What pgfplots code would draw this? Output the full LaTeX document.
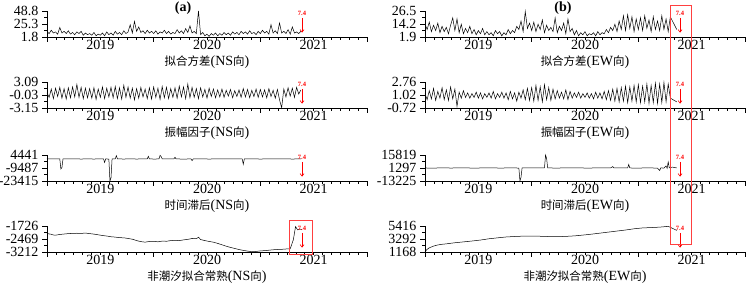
\documentclass[border=0pt]{standalone}
\usepackage{pgfplots}
\pgfplotsset{compat=1.18}
\usepackage{pgfplotstable}
\usetikzlibrary{arrows.meta}
\usepackage{fontspec}
\setmainfont{Liberation Serif}
\newfontfamily\cjk{Noto Sans CJK SC}[Scale=0.82]

\pgfplotstableread{
x L1 L2 R1 R2
2019.00 12 0.5 14 1.2
2019.02 8 -0.6 9 0.4
2019.04 14 1.4 16 1.6
2019.06 9 -0.9 7 0.5
2019.08 11 1.6 13 1.9
2019.10 7 -0.4 8 0.3
2019.12 19 1.8 15 1.5
2019.14 9 -0.8 6 0.6
2019.16 12 1.5 12 2.0
2019.18 8 -1.0 7 0.4
2019.20 13 1.7 11 1.7
2019.22 7 -0.7 5 0.3
2019.24 10 1.9 13 2.1
2019.26 6 -0.5 20 0.5
2019.28 11 2.5 8 1.8
2019.30 8 -0.6 19 -0.5
2019.32 12 1.8 6 1.4
2019.34 5 -0.9 14 0.6
2019.36 9 1.6 5 1.6
2019.38 6 -0.7 10 0.7
2019.40 8 1.5 6 1.3
2019.42 5 -0.8 12 0.6
2019.44 10 1.7 5 1.2
2019.46 4 -1.1 9 0.7
2019.48 7 1.4 4 1.4
2019.50 5 -0.6 8 0.6
2019.52 9 1.9 5 1.3
2019.54 4 -0.9 10 0.5
2019.56 11 1.6 4 1.2
2019.58 6 -0.5 7 0.7
2019.60 9 1.8 4 1.3
2019.62 5 -0.7 6 0.6
2019.64 12 2.0 3 1.5
2019.66 7 -0.9 8 0.5
2019.68 10 1.7 5 1.2
2019.70 6 -1.0 7 0.7
2019.72 13 2.3 3 1.4
2019.74 8 -0.6 6 0.6
2019.76 11 1.9 4 1.3
2019.78 24 -0.8 9 0.4
2019.80 9 1.6 5 1.5
2019.82 30 -1.2 8 0.5
2019.84 12 1.5 6 1.3
2019.86 20 -0.8 12 0.2
2019.88 10 1.8 9 1.4
2019.90 13 -0.5 17 0.6
2019.92 8 1.4 7 1.7
2019.94 14 -0.9 26 0.4
2019.96 9 1.7 10 1.9
2019.98 12 -1.0 15 0.3
2020.00 8 1.9 8 2.0
2020.02 13 -0.6 16 0.2
2020.04 7 1.6 7 2.3
2020.06 11 -1.1 14 0.3
2020.08 9 2.0 9 2.1
2020.10 14 -0.7 18 0.1
2020.12 8 1.8 6 2.4
2020.14 12 -0.9 13 0.4
2020.16 7 1.5 8 2.0
2020.18 10 -0.6 11 0.3
2020.20 8 1.7 7 1.8
2020.22 15 -0.8 20 0.5
2020.24 9 2.1 6 1.6
2020.26 13 -0.5 12 0.6
2020.28 8 1.9 8 1.4
2020.30 17 -0.9 15 0.5
2020.32 10 2.6 5 1.7
2020.34 22 -0.7 19 0.4
2020.36 9 1.8 7 1.5
2020.38 12 -0.6 10 0.6
2020.40 8 1.5 4 1.3
2020.42 48.8 -0.9 8 0.7
2020.44 6 1.7 3 1.4
2020.46 10 -0.5 6 0.6
2020.48 4 1.3 4 1.2
2020.50 7 -0.8 7 0.7
2020.52 3 1.6 3 1.3
2020.54 8 -0.4 5 0.6
2020.56 5 1.4 4 1.2
2020.58 9 -0.7 6 0.5
2020.60 4 1.2 3 1.4
2020.62 8 -0.5 7 0.6
2020.64 5 1.4 4 1.3
2020.66 10 -0.6 6 0.5
2020.68 6 1.1 5 1.5
2020.70 9 -0.3 9 0.4
2020.72 5 1.3 6 1.6
2020.74 11 -0.7 11 0.3
2020.76 7 1.0 8 1.8
2020.78 10 -0.4 14 0.2
2020.80 6 1.2 7 1.9
2020.82 12 -0.6 17 0.1
2020.84 8 1.5 9 2.0
2020.86 11 -0.5 22 0.2
2020.88 7 1.3 8 2.2
2020.90 13 -0.7 23 0.0
2020.92 8 1.1 10 2.1
2020.94 10 -0.4 21 0.2
2020.96 6 1.4 7 2.3
2020.98 12 -0.6 19 0.1
2021.00 8 1.3 9 2.4
2021.02 14 -0.5 20 0.0
2021.04 9 1.2 8 2.2
2021.06 12 -0.7 22 0.1
2021.08 7 1.5 10 2.5
2021.10 24 -0.4 18 -0.1
2021.12 9 1.1 7 2.3
2021.14 13 -0.8 21 0.0
2021.16 8 1.3 9 2.6
2021.18 27 -1.2 17 -0.1
2021.20 9 -3.1 8 2.5
2021.22 12 1.4 22 0.0
2021.24 8 -0.5 9 2.7
2021.26 15 1.7 19 0.1
2021.28 7 -0.3 7 2.5
2021.30 20 1.6 21 0.6
2021.32 9 -0.6 nan nan
2021.34 11 1.8 nan nan
2021.36 8 0.2 9 0.1
2021.38 12 1.2 nan nan
}\tMain

\pgfplotstableread{
x y
2019.00 200
2019.04 300
2019.08 150
2019.12 250
2019.13 -10500
2019.14 -9000
2019.15 300
2019.20 150
2019.26 350
2019.32 100
2019.38 300
2019.44 100
2019.50 350
2019.53 200
2019.54 -3500
2019.55 200
2019.58 100
2019.59 -23415
2019.60 -20000
2019.61 300
2019.64 400
2019.65 3700
2019.66 300
2019.72 100
2019.78 350
2019.84 100
2019.90 300
2019.94 400
2019.95 3000
2019.96 200
2020.02 100
2020.05 400
2020.06 4000
2020.07 2800
2020.08 300
2020.14 150
2020.19 300
2020.20 2000
2020.21 200
2020.28 100
2020.35 200
2020.36 -1600
2020.37 150
2020.44 350
2020.52 100
2020.60 300
2020.68 150
2020.76 300
2020.83 200
2020.84 -5500
2020.85 200
2020.92 350
2021.00 100
2021.08 300
2021.16 150
2021.24 300
2021.30 100
2021.38 300
}\tLthree

\pgfplotstableread{
x y
2019.00 -2150
2019.02 -2180
2019.04 -2200
2019.06 -2240
2019.08 -2250
2019.12 -2210
2019.16 -2185
2019.20 -2160
2019.24 -2150
2019.28 -2140
2019.32 -2150
2019.36 -2130
2019.40 -2160
2019.44 -2190
2019.48 -2230
2019.52 -2270
2019.56 -2300
2019.60 -2340
2019.64 -2360
2019.68 -2395
2019.72 -2400
2019.76 -2440
2019.80 -2480
2019.84 -2560
2019.88 -2620
2019.92 -2650
2019.96 -2610
2020.00 -2600
2020.04 -2630
2020.08 -2590
2020.12 -2600
2020.16 -2560
2020.20 -2550
2020.24 -2560
2020.28 -2520
2020.32 -2490
2020.36 -2440
2020.40 -2450
2020.42 -2370
2020.44 -2500
2020.48 -2560
2020.52 -2610
2020.56 -2650
2020.60 -2720
2020.64 -2800
2020.68 -2880
2020.72 -2950
2020.76 -3010
2020.80 -3070
2020.84 -3120
2020.88 -3160
2020.92 -3200
2020.96 -3180
2021.00 -3150
2021.04 -3135
2021.08 -3110
2021.12 -3085
2021.16 -3070
2021.20 -3060
2021.24 -3040
2021.28 -3030
2021.31 -2500
2021.33 -1760
2021.35 -1950
2021.37 -1900
2021.39 -1930
}\tLfour

\pgfplotstableread{
x y
2019.00 1300
2019.08 1250
2019.16 1350
2019.24 1280
2019.32 1320
2019.40 1300
2019.48 1260
2019.56 1340
2019.64 1300
2019.72 1280
2019.80 1320
2019.86 1300
2019.88 1200
2019.89 -13225
2019.90 -9000
2019.91 1300
2019.96 1350
2020.04 1300
2020.10 1320
2020.12 1400
2020.13 15819
2020.14 12000
2020.15 1300
2020.24 1280
2020.34 1320
2020.44 1300
2020.54 1280
2020.64 1320
2020.74 1300
2020.76 2900
2020.77 1300
2020.84 1350
2020.90 1400
2020.91 5200
2020.92 1300
2021.00 1250
2021.08 1350
2021.14 1300
2021.18 1100
2021.20 -1500
2021.21 1400
2021.24 1200
2021.26 3500
2021.27 1000
2021.28 8000
2021.29 1500
2021.32 2300
2021.36 1300
}\tRthree

\pgfplotstableread{
x y
2019.00 1250
2019.02 1600
2019.04 1850
2019.08 2130
2019.12 2320
2019.16 2430
2019.20 2500
2019.28 2680
2019.36 2820
2019.44 2960
2019.52 3120
2019.60 3330
2019.68 3480
2019.76 3620
2019.84 3700
2019.92 3760
2020.00 3780
2020.08 3740
2020.16 3690
2020.24 3660
2020.32 3720
2020.40 3800
2020.48 3930
2020.56 4080
2020.64 4250
2020.72 4420
2020.80 4590
2020.88 4760
2020.96 4960
2021.04 5100
2021.12 5160
2021.20 5230
2021.28 5360
2021.30 5200
2021.33 4950
2021.36 4700
}\tRfour

\pgfplotsset{
  panel/.style={
    scale only axis, width=320pt, height=26pt,
    xmin=2019, xmax=2022,
    axis x line*=bottom, axis y line*=left,
    axis line style={line width=0.8pt},
    tick align=outside,
    xtick={2019,2020,2021,2022}, xticklabels={,,,},
    minor x tick num=11,
    extra x ticks={2019.5,2020.5,2021.5},
    extra x tick labels={2019,2020,2021},
    extra x tick style={major tick length=0pt},
    major tick length=5pt, minor tick length=3pt,
    minor y tick num=1,
    tick style={black, line width=0.6pt},
    scaled y ticks=false,
    tick label style={font=\fontsize{14}{14}\selectfont},
    xlabel style={font=\fontsize{14}{14}\selectfont, at={(axis description cs:0.5,0)}, anchor=center, yshift=-25pt},
    clip=false,
    /pgf/number format/assume math mode=true,
  },
  dataline/.style={black, line width=0.5pt, mark=none},
}
\newcommand{\quake}{%
  \node[red, font=\fontsize{6.5}{6.5}\selectfont\bfseries, inner sep=0pt] at (rel axis cs:0.797,0.9) {7.4};
  \draw[red, line width=0.6pt, -{Straight Barb[length=2.5pt,width=4pt]}] (rel axis cs:0.797,0.74) -- (rel axis cs:0.797,0.17);
}

\begin{document}
\begin{tikzpicture}
\useasboundingbox (0pt,0pt) rectangle (746pt,288pt);

% ---- left column (NS)
\begin{axis}[panel, at={(47pt,251pt)}, ymin=1.8, ymax=48.8,
  ytick={1.8,25.3,48.8}, yticklabels={1.8,25.3,48.8},
  xlabel={{\cjk 拟合方差}(NS{\cjk 向})}]
\addplot[dataline] table[x=x,y=L1] {\tMain};
\quake
\end{axis}

\begin{axis}[panel, at={(47pt,180pt)}, ymin=-3.15, ymax=3.09,
  ytick={-3.15,-0.03,3.09}, yticklabels={-3.15,-0.03,3.09},
  xlabel={{\cjk 振幅因子}(NS{\cjk 向})}]
\addplot[dataline] table[x=x,y=L2] {\tMain};
\quake
\end{axis}

\begin{axis}[panel, at={(47pt,107pt)}, ymin=-23415, ymax=4441,
  ytick={-23415,-9487,4441}, yticklabels={-23415,-9487,4441},
  xlabel={{\cjk 时间滞后}(NS{\cjk 向})}]
\addplot[dataline] table[x=x,y=y] {\tLthree};
\quake
\end{axis}

\begin{axis}[panel, at={(47pt,36pt)}, ymin=-3212, ymax=-1726,
  ytick={-3212,-2469,-1726}, yticklabels={-3212,-2469,-1726},
  xlabel={{\cjk 非潮汐拟合常熟}(NS{\cjk 向})}]
\addplot[dataline] table[x=x,y=y] {\tLfour};
\quake
\end{axis}

% ---- right column (EW)
\begin{axis}[panel, at={(425pt,251pt)}, ymin=1.9, ymax=26.5,
  ytick={1.9,14.2,26.5}, yticklabels={1.9,14.2,26.5},
  xlabel={{\cjk 拟合方差}(EW{\cjk 向})}]
\addplot[dataline] table[x=x,y=R1] {\tMain};
\quake
\end{axis}

\begin{axis}[panel, at={(425pt,180pt)}, ymin=-0.72, ymax=2.76,
  ytick={-0.72,1.02,2.76}, yticklabels={-0.72,1.02,2.76},
  xlabel={{\cjk 振幅因子}(EW{\cjk 向})}]
\addplot[dataline] table[x=x,y=R2] {\tMain};
\quake
\end{axis}

\begin{axis}[panel, at={(425pt,107pt)}, ymin=-13225, ymax=15819,
  ytick={-13225,1297,15819}, yticklabels={-13225,1297,15819},
  xlabel={{\cjk 时间滞后}(EW{\cjk 向})}]
\addplot[dataline] table[x=x,y=y] {\tRthree};
\quake
\end{axis}

\begin{axis}[panel, at={(425pt,36pt)}, ymin=1168, ymax=5416,
  ytick={1168,3292,5416}, yticklabels={1168,3292,5416},
  xlabel={{\cjk 非潮汐拟合常熟}(EW{\cjk 向})}]
\addplot[dataline] table[x=x,y=y] {\tRfour};
\quake
\end{axis}

% panel tags and highlight boxes
\node[font=\bfseries\fontsize{14}{14}\selectfont] at (183pt,280pt) {(a)};
\node[font=\bfseries\fontsize{14}{14}\selectfont] at (563pt,280pt) {(b)};
\draw[red!75, line width=0.9pt] (670pt,283pt) rectangle (691pt,44pt);
\draw[red!75, line width=0.9pt] (289pt,68pt) rectangle (312pt,34pt);
\end{tikzpicture}
\end{document}
